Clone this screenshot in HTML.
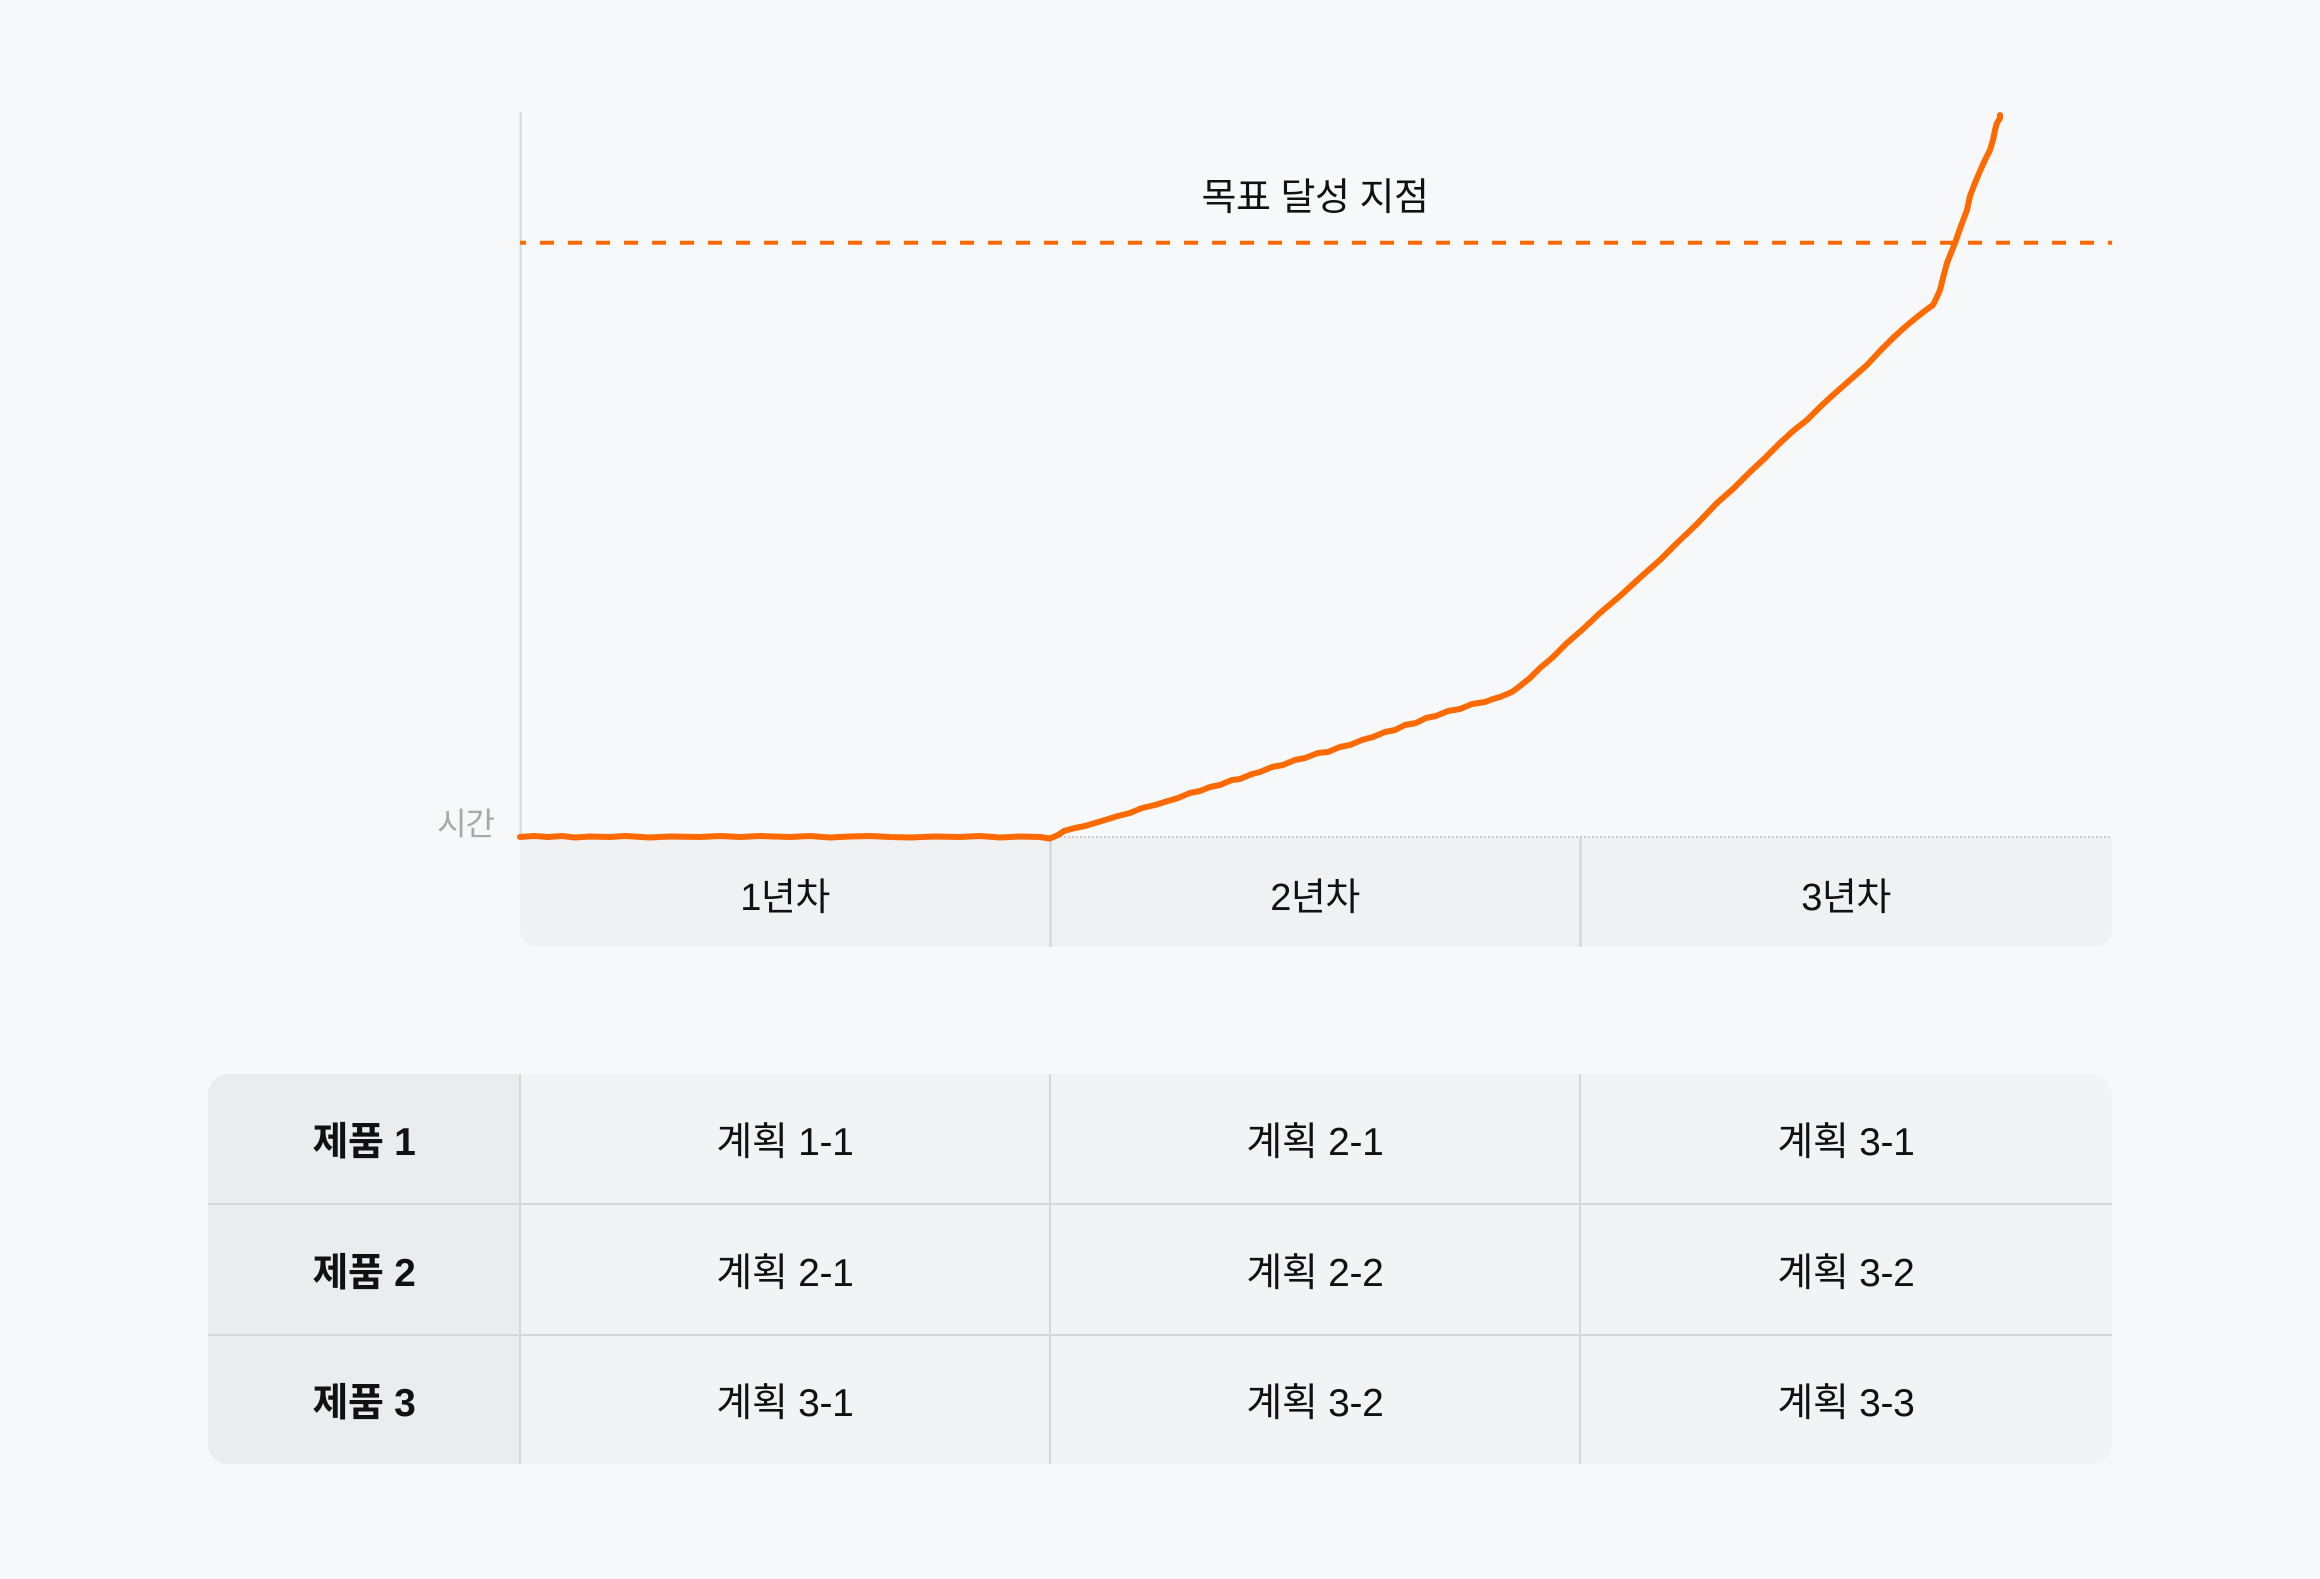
<!DOCTYPE html>
<html><head><meta charset="utf-8"><style>
html,body{margin:0;padding:0;}
body{width:2320px;height:1579px;background:#f7f8fa;position:relative;overflow:hidden;font-family:"Liberation Sans","Noto Sans CJK KR",sans-serif;color:#111;}
.abs{position:absolute;}
.band{left:520px;top:837px;width:1592px;height:110px;background:#f0f1f3;border-radius:0 0 18px 18px;}
.lbl{position:absolute;top:6px;height:110px;line-height:110px;text-align:center;font-size:38px;letter-spacing:-0.5px;}
.table{left:208px;top:1074px;width:1904px;height:390px;background:#f2f3f5;border-radius:20px;overflow:hidden;}
.hcol{position:absolute;left:0;top:0;width:312px;height:390px;background:#ebecee;}
.cell{position:absolute;text-align:center;font-size:39px;letter-spacing:-0.3px;display:flex;align-items:center;justify-content:center;}
.b{font-weight:bold;}
</style></head><body>

<div class="abs band">
  <div class="lbl" style="left:0;width:530px;">1년차</div>
  <div class="lbl" style="left:530px;width:530px;">2년차</div>
  <div class="lbl" style="left:1060px;width:532px;">3년차</div>
</div>

<div class="abs table">
  <div class="hcol"></div>
  <div class="cell b" style="left:0;top:0;width:312px;height:130px;">제품 1</div>
  <div class="cell b" style="left:0;top:130px;width:312px;height:131px;">제품 2</div>
  <div class="cell b" style="left:0;top:261px;width:312px;height:129px;">제품 3</div>

  <div class="cell" style="left:312px;top:0;width:530px;height:130px;">계획 1-1</div>
  <div class="cell" style="left:842px;top:0;width:530px;height:130px;">계획 2-1</div>
  <div class="cell" style="left:1372px;top:0;width:532px;height:130px;">계획 3-1</div>

  <div class="cell" style="left:312px;top:130px;width:530px;height:131px;">계획 2-1</div>
  <div class="cell" style="left:842px;top:130px;width:530px;height:131px;">계획 2-2</div>
  <div class="cell" style="left:1372px;top:130px;width:532px;height:131px;">계획 3-2</div>

  <div class="cell" style="left:312px;top:261px;width:530px;height:129px;">계획 3-1</div>
  <div class="cell" style="left:842px;top:261px;width:530px;height:129px;">계획 3-2</div>
  <div class="cell" style="left:1372px;top:261px;width:532px;height:129px;">계획 3-3</div>

  <div class="abs" style="left:0;top:129px;width:1904px;height:2px;background:#d6d6da;"></div>
  <div class="abs" style="left:0;top:260px;width:1904px;height:2px;background:#d6d6da;"></div>
  <div class="abs" style="left:311px;top:0;width:2px;height:390px;background:#d6d6da;"></div>
  <div class="abs" style="left:841px;top:0;width:2px;height:390px;background:#d6d6da;"></div>
  <div class="abs" style="left:1371px;top:0;width:2px;height:390px;background:#d6d6da;"></div>
</div>

<div class="abs" style="left:1015px;top:171px;width:600px;height:54px;line-height:54px;text-align:center;font-size:38px;letter-spacing:-0.5px;">목표 달성 지점</div>
<div class="abs" style="left:394px;top:802px;width:100px;height:44px;line-height:44px;text-align:right;font-size:32px;color:#a8a8a8;letter-spacing:-1px;">시간</div>

<svg class="abs" style="left:0;top:0;" width="2320" height="1579" viewBox="0 0 2320 1579">
  <line x1="520.5" y1="112" x2="520.5" y2="837" stroke="#d8d8da" stroke-width="2"/>
  <line x1="520" y1="837" x2="2112" y2="837" stroke="#cacacd" stroke-width="2" stroke-dasharray="2 2"/>
  <line x1="1050.5" y1="838" x2="1050.5" y2="947" stroke="#d2d2d5" stroke-width="2"/>
  <line x1="1580.5" y1="838" x2="1580.5" y2="947" stroke="#d2d2d5" stroke-width="2"/>
  <line x1="520" y1="242.7" x2="2112" y2="242.7" stroke="#ff6a00" stroke-width="4" stroke-dasharray="14 14" stroke-dashoffset="8"/>
  <polyline fill="none" stroke="#ff6a00" stroke-width="6" stroke-linejoin="round" stroke-linecap="round"
   points="520,837 534,836 548,837 562,836 575,837.5 590,836.5 610,837 625,836 650,837.5 670,836.5 700,837 720,836 740,837 760,836 790,837 810,836 830,837.5 850,836.5 870,836 890,837 910,837.5 935,836.5 960,837 980,836 1000,837.5 1020,836.5 1040,837 1050,838.5 1058,835 1064,831 1075,828 1085,826 1095,823 1105,820 1118,816 1130,813 1142,808 1155,805 1168,801 1178,798 1190,793 1200,791 1210,787 1220,785 1232,780 1240,779 1252,774 1260,772 1272,767 1283,765 1295,760 1305,758 1318,753 1328,752 1340,747 1350,745 1362,740 1373,737 1385,732 1395,730 1405,725 1416,723 1426,718 1436,716 1448,711 1460,709 1472,704 1485,702 1493,699 1500,697 1512,692 1520,686 1530,678 1540,668 1552,658 1567,643 1582,630 1600,613 1620,596 1643,575 1660,560 1677,543 1697,524 1717,503 1734,488 1750,472 1765,458 1780,443 1793,431 1807,420 1820,407 1833,395 1850,380 1867,365 1880,351 1893,338 1905,327 1917,317 1926,310 1933,305 1937,297 1940,290 1943,278 1947,263 1951,253 1955,243 1961,226 1967,210 1970,196 1975,183 1980,171 1985,160 1990,150 1993,140 1995,130 1997,123 2000,118 2000,115"/>
</svg>
</body></html>
